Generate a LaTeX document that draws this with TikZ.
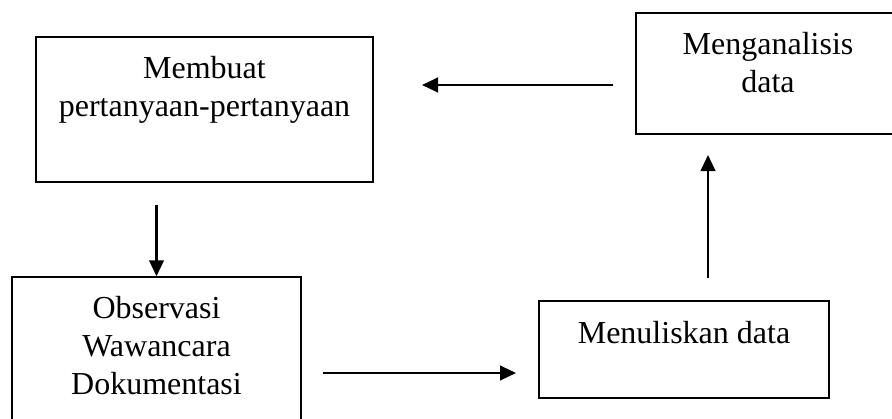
\documentclass[tikz,border=0pt]{standalone}
\usepackage{fontspec}
\setmainfont{Liberation Serif}
\usetikzlibrary{arrows.meta}
\begin{document}
\begin{tikzpicture}[x=0.75pt,y=-0.75pt,
  box/.style={draw, line width=1.1pt, rectangle, inner sep=0pt},
  lbl/.style={font=\fontsize{24}{28.5}\selectfont, align=center, inner sep=0pt, anchor=north},
  arr/.style={line width=1.6pt, -{Triangle[length=12pt,width=11pt]}}]
\useasboundingbox (0,0) rectangle (892,418);
\clip (0,0) rectangle (892,418);
% boxes
\node[box, minimum width=252.75pt, minimum height=108.75pt] (A) at (204.5,109.5) {};
\node[box, minimum width=198pt, minimum height=90.75pt] (B) at (768,73.5) {};
\node[box, minimum width=216.75pt, minimum height=112.5pt] (C) at (156.5,352) {};
\node[box, minimum width=217.5pt, minimum height=72.75pt] (D) at (684,349.5) {};
% labels
\node[lbl] (tA) at (204.5,56) {Membuat\\pertanyaan-pertanyaan};
\node[lbl] (tB) at (768,32) {Menganalisis\\data};
\node[lbl] (tC) at (156.5,296) {Observasi\\Wawancara\\Dokumentasi};
\node[lbl] (tD) at (684,321) {Menuliskan data};
% connector ends
\coordinate (ba1) at (613,85);
\coordinate (ba2) at (422,85);
\coordinate (ac1) at (156.5,205);
\coordinate (cd1) at (323,373);
\coordinate (cd2) at (516,373);
\coordinate (db1) at (708,278);
\coordinate (db2) at (708,155);
% arrows
\draw[arr] (ba1) -- (ba2);
\draw[arr] (ac1) -- (C.north);
\draw[arr] (cd1) -- (cd2);
\draw[arr] (db1) -- (db2);
\end{tikzpicture}
\end{document}
